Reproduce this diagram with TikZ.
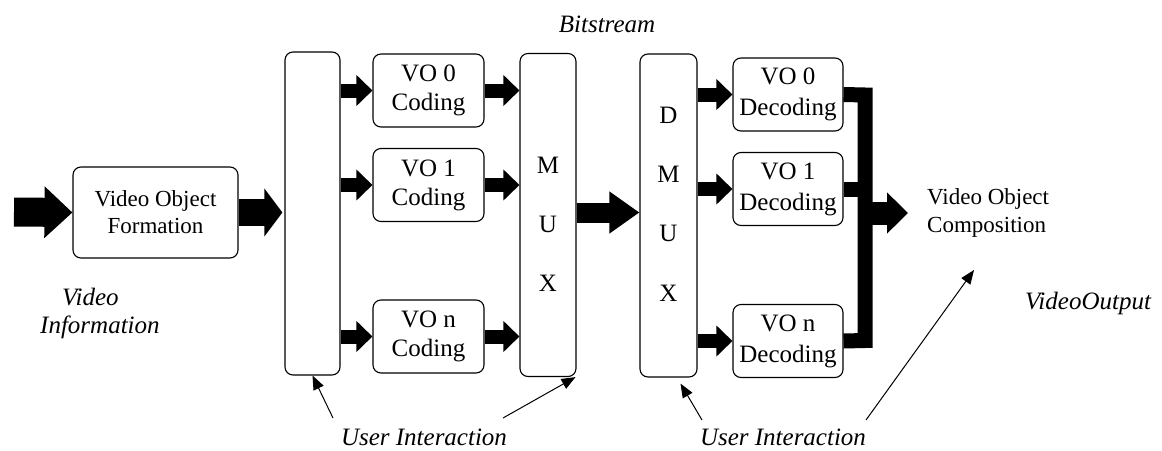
\documentclass[tikz,border=0pt]{standalone}
\usepackage{fontspec}
\setmainfont{Liberation Serif}
\usetikzlibrary{arrows.meta}
\begin{document}
\begin{tikzpicture}[x=1pt,y=-1pt,
    box/.style={draw,rounded corners=8pt,line width=1.1pt,align=center,inner sep=0pt,
      font=\fontsize{25}{29}\selectfont},
    tall/.style={box,minimum width=55pt,minimum height=323pt},
    cod/.style={box,minimum width=111pt,minimum height=73pt},
    letters/.style={align=center,inner sep=0pt,font=\fontsize{25}{59}\selectfont},
    lbl/.style={inner sep=0pt,font=\fontsize{25}{28}\selectfont\itshape},
    plain/.style={inner sep=0pt,align=left,font=\fontsize{23}{28}\selectfont},
    small/.style={line width=14pt,-{Triangle[width=30pt,length=16pt]}},
    thin/.style={line width=1pt,-{Triangle[width=11pt,length=14pt]}}]
    \useasboundingbox (0,0) rectangle (1162,450);
    \node[box,minimum width=165pt,minimum height=91pt,font=\fontsize{23}{27}\selectfont] (vof) at (155.5,212.5) {Video Object\\Formation};
    \node[tall] (split) at (312.5,213.5) {};
    \node[tall,minimum width=56pt] (mux) at (548,215) {};
    \node[letters] (muxtext) at (548,224) {M\\U\\X};
    \node[tall,minimum width=57pt] (dmux) at (668.5,215.5) {};
    \node[letters,font=\fontsize{25}{59.3}\selectfont] (dmuxtext) at (668.5,204) {D\\M\\U\\X};
    \node[cod] (c0) at (428.5,90.5) {VO 0\\Coding};
    \node[cod] (c1) at (428.5,185) {VO 1\\Coding};
    \node[cod] (cn) at (428.5,336.5) {VO n\\Coding};
    \node[cod,minimum width=110pt,font=\fontsize{25}{31}\selectfont] (d0) at (788,94.5) {VO 0\\Decoding};
    \node[cod,minimum width=110pt,font=\fontsize{25}{31}\selectfont] (d1) at (788,189) {VO 1\\Decoding};
    \node[cod,minimum width=110pt,font=\fontsize{25}{31}\selectfont] (dn) at (788,341) {VO n\\Decoding};
    \node[plain,anchor=west] (comp) at (927,213) {Video Object\\Composition};
    \node[lbl] (bits) at (607,24) {Bitstream};
    \node[lbl,align=left,anchor=west] (vinfo) at (40,313) {\hspace*{22pt}Video\\Information};
    \node[lbl] (vout) at (1088,303) {VideoOutput};
    \node[lbl] (ui1) at (424,437) {User Interaction};
    \node[lbl] (ui2) at (783,437) {User Interaction};
    \coordinate (src) at (14,212);
    \coordinate (bustop) at (865,95);
    \coordinate (busbot) at (865,340.5);
    \coordinate (busout) at (865,213);
    \coordinate (compin) at (908,213);
    \draw[line width=29pt,-{Triangle[width=50pt,length=28pt]}] (src) -- (vof.west);
    \draw[line width=27pt,-{Triangle[width=47pt,length=18pt]}] (vof.east) -- ([xshift=-2pt]split.west |- vof.east);
    \foreach \n in {0,1,n} {
        \draw[small] (split.east |- c\n.west) -- (c\n.west);
        \draw[small] (c\n.east) -- (mux.west |- c\n.east);
        \draw[small] (dmux.east |- d\n.west) -- (d\n.west);
    }
    \draw[line width=20pt,-{Triangle[width=40pt,length=30pt]}] (mux.east |- vof.east) -- (dmux.west |- vof.east);
    \draw[line width=15pt] (d0.east) -- (bustop) -- (busbot) -- (dn.east);
    \draw[line width=15pt] (d1.east) -- (d1.east -| bustop);
    \draw[line width=23pt,-{Triangle[width=40pt,length=21pt]}] (busout) -- (compin);
    \draw[thin] (333,418) -- (split.south);
    \draw[thin] (503,418) -- ([xshift=-1pt]mux.south east);
    \draw[thin] (702,420) -- ([xshift=12pt,yshift=-6pt]dmux.south);
    \draw[thin] (866,420) -- (974,270);
\end{tikzpicture}
\end{document}
